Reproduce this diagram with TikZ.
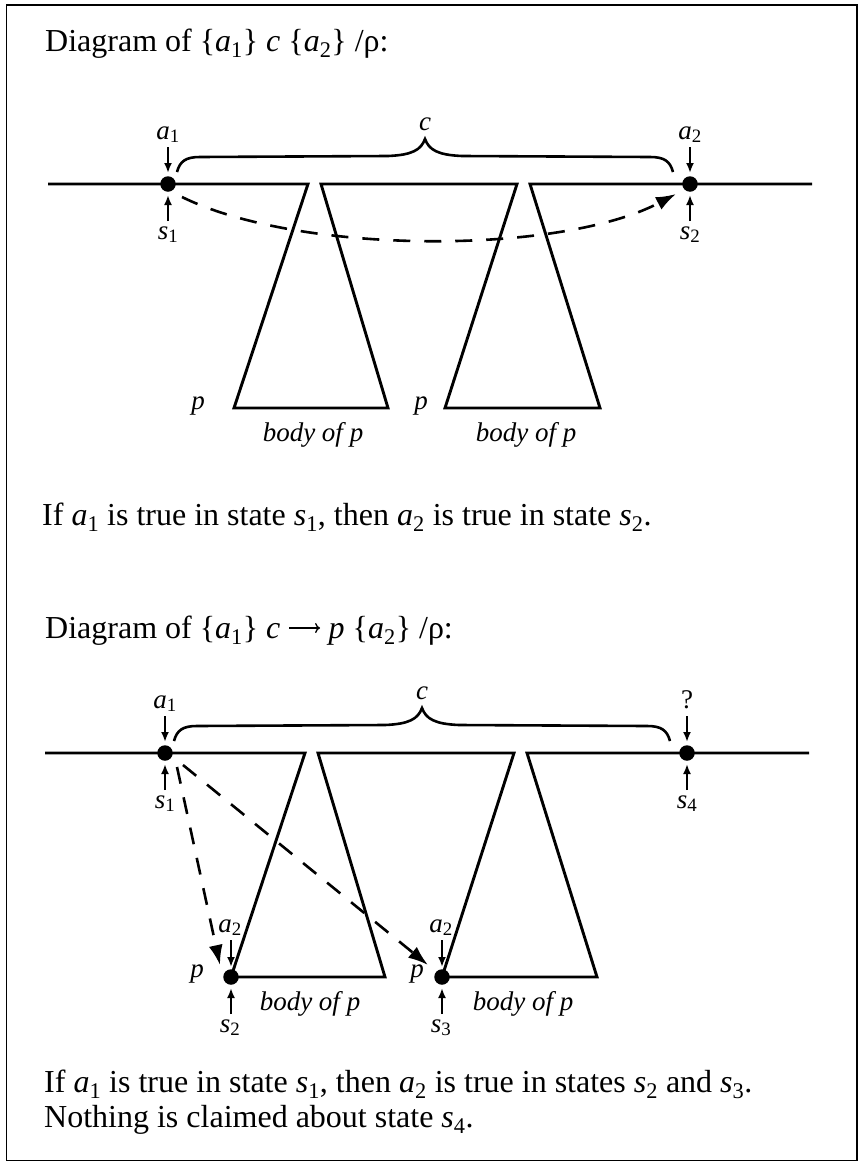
\documentclass[tikz,border=0pt]{standalone}
\usepackage{fontspec}
\setmainfont{Liberation Serif}
\usetikzlibrary{arrows.meta,calc}
\newcommand\lab[2]{#1\textsubscript{\upshape #2}}
\newcommand\vr[2]{\textit{#1}\textsubscript{#2}}
\newcommand\myarrow{\tikz[baseline=0pt,x=1pt,y=1pt]{\path (0,0) -- (31,0); \draw[line width=1.3pt,-{To[length=5pt,width=10pt]}] (0,10) -- (31,10);}}
\tikzset{
  maintext/.style={font=\fontsize{32}{38}\selectfont, inner sep=0pt, anchor=base west},
  lbl/.style={font=\fontsize{27}{32}\selectfont\itshape, inner sep=0pt, anchor=base},
  dot/.style={circle, fill=black, inner sep=0pt, minimum size=15.5pt},
  track/.style={line width=2.9pt, line join=miter},
  sarrow/.style={line width=2.3pt, -{Latex[length=10pt,width=8pt]}},
  dasharrow/.style={line width=2.6pt, dash pattern=on 17pt off 14pt, -{Latex[length=20pt,width=14pt]}},
  bracestyle/.style={line width=2.6pt},
}
\begin{document}
\begin{tikzpicture}[x=1pt,y=-1pt]
\useasboundingbox (0,0) rectangle (861,1162);
\draw[line width=1.5pt] (6.5,5) rectangle (857,1160.5);

% ---------- texts ----------
\node[maintext] (t1) at (45,51) {Diagram of \{\vr{a}{1}\} \textit{c} \{\vr{a}{2}\} /ρ:};
\node[maintext] (t2) at (42,525) {If \vr{a}{1} is true in state \vr{s}{1}, then \vr{a}{2} is true in state \vr{s}{2}.};
\node[maintext] (t3) at (45,638) {Diagram of \{\vr{a}{1}\} \textit{c} \myarrow{} \textit{p} \{\vr{a}{2}\} /ρ:};
\node[maintext] (t4) at (44,1092) {If \vr{a}{1} is true in state \vr{s}{1}, then \vr{a}{2} is true in states \vr{s}{2} and \vr{s}{3}.};
\node[maintext] (t5) at (44,1127) {Nothing is claimed about state \vr{s}{4}.};

% ---------- diagram 1 ----------
\draw[track] (48,184) -- (308,184) -- (234,408) -- (388,408) -- (321,184) -- (517,184) -- (445,408) -- (600,408) -- (530,184) -- (812,184);
\node[dot] (L1) at (168,184) {};
\node[dot] (R1) at (690,184) {};
\node[lbl] (La1) at (168,139) {\lab{a}{1}};
\node[lbl] (Ls1) at (168,239) {\lab{s}{1}};
\node[lbl] (Ra2) at (690,139) {\lab{a}{2}};
\node[lbl] (Rs2) at (690,239) {\lab{s}{2}};
\draw[sarrow] ($(L1)+(0,-37)$) -- ($(L1)+(0,-11)$);
\draw[sarrow] ($(L1)+(0,37)$) -- ($(L1)+(0,11)$);
\draw[sarrow] ($(R1)+(0,-37)$) -- ($(R1)+(0,-11)$);
\draw[sarrow] ($(R1)+(0,37)$) -- ($(R1)+(0,11)$);
\draw[bracestyle] (177,172) .. controls (180,161) and (186,157) .. (200,157) -- (388,156) .. controls (412,155) and (421,150) .. (425,139) .. controls (429,150) and (438,155) .. (462,156) -- (650,157) .. controls (664,157) and (670,161) .. (673,172);
\node[lbl] (c1) at (425,130) {c};
\draw[dasharrow] ($(L1)+(14,13)$) .. controls (300,255) and (560,255) .. ($(R1)+(-14,10)$);
\node[lbl] (p1) at (198,409) {p};
\node[lbl] (p2) at (421,409) {p};
\node[lbl] (b1) at (313,441) {body of p};
\node[lbl] (b2) at (526,441) {body of p};

% ---------- diagram 2 ----------
\begin{scope}[shift={(-3,569)}]
\draw[track] (48,184) -- (308,184) -- (234,408) -- (388,408) -- (321,184) -- (517,184) -- (445,408) -- (600,408) -- (530,184) -- (812,184);
\node[dot] (L2) at (168,184) {};
\node[dot] (R2) at (690,184) {};
\node[dot] (B1) at (234,408) {};
\node[dot] (B2) at (445,408) {};
\node[lbl] (La1b) at (168,139) {\lab{a}{1}};
\node[lbl] (Ls1b) at (168,239) {\lab{s}{1}};
\node[lbl, font=\fontsize{27}{32}\selectfont] (Rq) at (690,139) {?};
\node[lbl] (Rs4) at (690,239) {\lab{s}{4}};
\draw[sarrow] ($(L2)+(0,-37)$) -- ($(L2)+(0,-11)$);
\draw[sarrow] ($(L2)+(0,37)$) -- ($(L2)+(0,11)$);
\draw[sarrow] ($(R2)+(0,-37)$) -- ($(R2)+(0,-11)$);
\draw[sarrow] ($(R2)+(0,37)$) -- ($(R2)+(0,11)$);
\draw[bracestyle] (177,172) .. controls (180,161) and (186,157) .. (200,157) -- (388,156) .. controls (412,155) and (421,150) .. (425,139) .. controls (429,150) and (438,155) .. (462,156) -- (650,157) .. controls (664,157) and (670,161) .. (673,172);
\node[lbl] (c2) at (425,130) {c};
% bottom states
\node[lbl] (Ba1) at ($(B1)+(-1,-45)$) {\lab{a}{2}};
\node[lbl] (Bs2) at ($(B1)+(-1,55)$) {\lab{s}{2}};
\node[lbl] (Ba2) at ($(B2)+(-1,-45)$) {\lab{a}{2}};
\node[lbl] (Bs3) at ($(B2)+(-1,55)$) {\lab{s}{3}};
\draw[sarrow] ($(B1)+(0,-37)$) -- ($(B1)+(0,-10)$);
\draw[sarrow] ($(B1)+(0,37)$) -- ($(B1)+(0,11)$);
\draw[sarrow] ($(B2)+(0,-37)$) -- ($(B2)+(0,-10)$);
\draw[sarrow] ($(B2)+(0,37)$) -- ($(B2)+(0,11)$);
\node[lbl] (p3) at (200,408) {p};
\node[lbl] (p4) at (420,408) {p};
\node[lbl] (b3) at (313,441) {body of p};
\node[lbl] (b4) at (526,441) {body of p};
\draw[dasharrow] ($(L2)+(12,14)$) -- ($(B1)+(-11,-12)$);
\draw[dasharrow] ($(L2)+(18,12)$) -- ($(B2)+(-14,-12)$);
\end{scope}
\end{tikzpicture}
\end{document}
